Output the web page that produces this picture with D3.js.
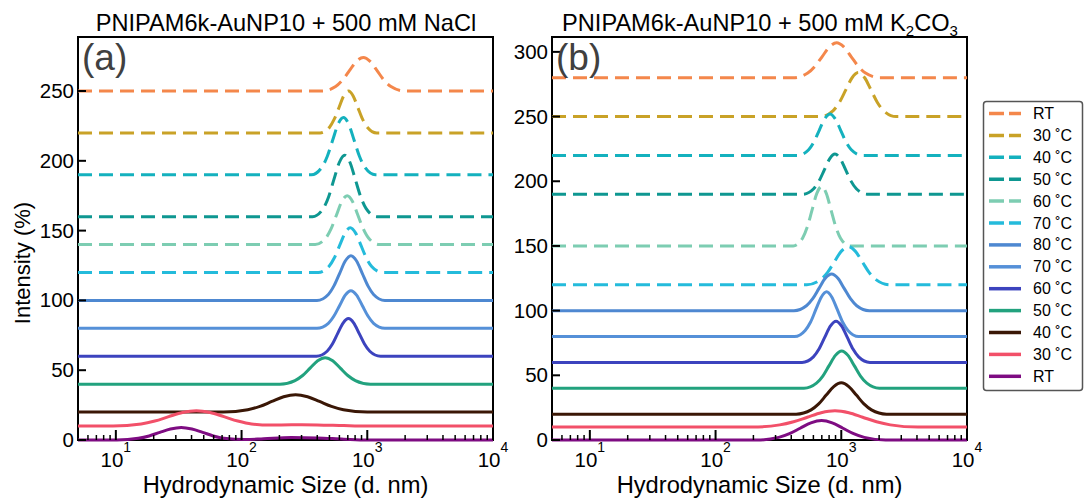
<!DOCTYPE html>
<html>
<head>
<meta charset="utf-8">
<script src="https://cdn.jsdelivr.net/npm/d3@7"></script>
<style>
  body { margin: 0; background: #fff; }
  svg { font-family: "Liberation Sans", Arial, sans-serif; }
</style>
</head>
<body>
<svg id="chart" width="1085" height="498"></svg>
<script>
// --- données ---
const legendLabels = ["RT", "30 ˚C", "40 ˚C", "50 ˚C", "60 ˚C", "70 ˚C",
  "80 ˚C", "70 ˚C", "60 ˚C", "50 ˚C", "40 ˚C", "30 ˚C", "RT"];
const isDashed = [true, true, true, true, true, true, false, false, false, false, false, false, false];
const lineColors = ["#f4874b", "#c9a227", "#14b1be", "#0e9791", "#7dcdb2", "#24bbdb",
  "#4e88d1", "#5590d8", "#3c43be", "#22a27e", "#3a1706", "#f25069", "#7e0c82"];

const titleA = "PNIPAM6k-AuNP10 + 500 mM NaCl";
const sizeRange = [5, 10000];
const xTickValues = [10, 100, 1000, 10000];
const xTickExps = ["1", "2", "3", "4"];
const yTicksA = [0, 50, 100, 150, 200, 250];
const yTicksB = [0, 50, 100, 150, 200, 250, 300];
const yMaxA = 288.7;
const yMaxB = 311.5;

// décalage vertical de chaque courbe (%)
const offsetsA = [250, 220, 190, 160, 140, 120, 100, 80, 60, 40, 20, 10, 0];
const offsetsB = [280, 250, 220, 190, 150, 120, 100, 80, 60, 40, 20, 10, 0];

// [taille (nm), intensité (%)] autour des pics
const peaksA = [
  [[435, 0], [560, 3.2], [635, 7.8], [721, 14.6], [818, 21.2], [929, 24], [1054, 21.2], [1197, 14.6], [1358, 7.8], [1542, 3.2], [1986, 0]],
  [[422, 0], [501, 4.1], [546, 9.8], [596, 18.2], [649, 26.5], [708, 30], [772, 26.5], [841, 18.2], [917, 9.8], [1000, 4.1], [1189, 0]],
  [[359, 0], [436, 5.5], [481, 13.3], [531, 24.9], [585, 36.2], [646, 41], [712, 36.2], [785, 24.9], [866, 13.3], [955, 5.5], [1161, 0]],
  [[367, 0], [447, 5.9], [493, 14.3], [543, 26.7], [599, 38.8], [661, 44], [729, 38.8], [803, 26.7], [886, 14.3], [977, 5.9], [1189, 0]],
  [[385, 0], [468, 4.7], [516, 11.4], [569, 21.2], [627, 30.9], [692, 35], [763, 30.9], [841, 21.2], [928, 11.4], [1023, 4.7], [1245, 0]],
  [[407, 0], [495, 4.3], [546, 10.4], [603, 19.4], [665, 28.2], [733, 32], [808, 28.2], [891, 19.4], [983, 10.4], [1084, 4.3], [1318, 0]],
  [[398, 0], [490, 4.3], [543, 10.4], [603, 19.4], [668, 28.2], [741, 32], [822, 28.2], [912, 19.4], [1012, 10.4], [1122, 4.3], [1380, 0]],
  [[398, 0], [490, 3.6], [543, 8.8], [603, 16.4], [668, 23.8], [741, 27], [822, 23.8], [912, 16.4], [1012, 8.8], [1122, 3.6], [1380, 0]],
  [[394, 0], [479, 3.6], [528, 8.8], [582, 16.4], [642, 23.8], [708, 27], [781, 23.8], [861, 16.4], [950, 8.8], [1047, 3.6], [1274, 0]],
  [[202, 0], [266, 2.6], [306, 6.2], [351, 11.5], [403, 16.8], [462, 19], [531, 16.8], [610, 11.5], [700, 6.2], [804, 2.6], [1059, 0]],
  [[72, 0], [112, 1.7], [140, 4.1], [174, 7.6], [216, 11], [269, 12.5], [335, 11], [417, 7.6], [519, 4.1], [646, 1.7], [1000, 0]],
  [[9.5, 0], [15.9, 1.5], [20.4, 3.6], [26.3, 6.7], [33.9, 9.7], [43.7, 11], [56.2, 9.7], [72.4, 6.7], [93.3, 3.6], [120, 1.5], [170, 0.7], [250, 0.9], [400, 0.8], [650, 0.3], [1000, 0]],
  [[10.2, 0], [15.1, 1.2], [18.4, 2.9], [22.4, 5.5], [27.2, 7.9], [33.1, 9], [40.3, 7.9], [49, 5.5], [59.6, 2.9], [72.4, 1.2], [107, 0.3], [150, 0.9], [250, 1.8], [400, 1.5], [650, 0.6], [1000, 0]]
];

const peaksB = [
  [[415, 0], [541, 3.6], [617, 8.8], [705, 16.4], [805, 23.8], [918, 27], [1048, 23.8], [1197, 16.4], [1366, 8.8], [1560, 3.6], [2032, 0]],
  [[686, 0], [863, 4.6], [968, 11.1], [1086, 20.6], [1219, 30], [1368, 34], [1535, 30], [1722, 20.6], [1932, 11.1], [2168, 4.6], [2729, 0]],
  [[452, 0], [550, 4.3], [606, 10.4], [668, 19.4], [737, 28.2], [813, 32], [896, 28.2], [989, 19.4], [1090, 10.4], [1202, 4.3], [1462, 0]],
  [[496, 0], [603, 4.2], [665, 10.1], [733, 18.8], [808, 27.3], [891, 31], [983, 27.3], [1084, 18.8], [1195, 10.1], [1318, 4.2], [1603, 0]],
  [[415, 0], [493, 6.2], [538, 15], [586, 27.9], [639, 40.6], [697, 46], [760, 40.6], [828, 27.9], [903, 15], [984, 6.2], [1169, 0]],
  [[532, 0], [686, 4], [778, 9.6], [883, 17.9], [1002, 26], [1138, 29.5], [1291, 26], [1466, 17.9], [1663, 9.6], [1888, 4], [2432, 0]],
  [[420, 0], [528, 3.8], [593, 9.2], [665, 17.2], [746, 25], [838, 28.3], [940, 25], [1054, 17.2], [1183, 9.2], [1327, 3.8], [1671, 0]],
  [[425, 0], [516, 4.7], [570, 11.2], [628, 20.9], [693, 30.4], [764, 34.5], [842, 30.4], [929, 20.9], [1024, 11.2], [1130, 4.7], [1374, 0]],
  [[488, 0], [600, 4.3], [665, 10.3], [738, 19.3], [818, 28], [908, 31.8], [1007, 28], [1117, 19.3], [1239, 10.3], [1374, 4.3], [1690, 0]],
  [[505, 0], [635, 3.9], [713, 9.4], [800, 17.5], [898, 25.4], [1007, 28.8], [1130, 25.4], [1268, 17.5], [1422, 9.4], [1596, 3.9], [2009, 0]],
  [[437, 0], [575, 3.3], [661, 7.9], [759, 14.7], [871, 21.3], [1000, 24.2], [1148, 21.3], [1318, 14.7], [1514, 7.9], [1738, 3.3], [2291, 0]],
  [[195, 0], [324, 1.7], [417, 4.1], [537, 7.6], [692, 11.1], [891, 12.6], [1148, 11.1], [1479, 7.6], [1905, 4.1], [2455, 1.7], [4074, 0]],
  [[215, 0], [318, 2], [387, 4.9], [471, 9.1], [573, 13.2], [697, 15], [847, 13.2], [1030, 9.1], [1253, 4.9], [1524, 2], [2254, 0]]
];

const svg = d3.select("#chart");

const drawPanel = (cfg) => {
  const { left, right, top, bottom, yMax, yTicks, offsets, peaks, letter, id } = cfg;
  const x = d3.scaleLog().domain(sizeRange).range([left, right]);
  const y = d3.scaleLinear().domain([0, yMax]).range([bottom, top]);
  const g = svg.append("g");

  g.append("clipPath").attr("id", "clip" + id)
    .append("rect")
    .attr("x", left).attr("y", top)
    .attr("width", right - left + 1).attr("height", bottom - top + 2);

  // cadre
  g.append("rect")
    .attr("x", left).attr("y", top)
    .attr("width", right - left).attr("height", bottom - top)
    .attr("fill", "none").attr("stroke", "#000").attr("stroke-width", 2);

  // courbes
  const line = d3.line().curve(d3.curveMonotoneX);
  const curves = g.append("g").attr("clip-path", `url(#clip${id})`);
  peaks.forEach((pts, i) => {
    const all = [[sizeRange[0], 0], ...pts, [sizeRange[1], 0]];
    curves.append("path")
      .attr("d", line(all.map((d) => [x(d[0]), y(offsets[i] + d[1])])))
      .attr("fill", "none")
      .attr("stroke", lineColors[i])
      .attr("stroke-width", 3)
      .attr("stroke-dasharray", isDashed[i] ? "14,7" : null);
  });

  // graduations y (vers l'intérieur)
  yTicks.forEach((t) => {
    g.append("line")
      .attr("x1", left).attr("x2", left + 8)
      .attr("y1", y(t)).attr("y2", y(t))
      .attr("stroke", "#000").attr("stroke-width", 2);
    g.append("text")
      .attr("x", left - 4).attr("y", y(t) + 7)
      .attr("text-anchor", "end")
      .attr("font-size", 20.5)
      .text(t);
  });

  // graduations x (log, majeures + mineures)
  const minor = [];
  for (let dec = 1; dec <= 1000; dec *= 10) {
    for (let m = 2; m <= 9; m++) {
      const v = m * dec;
      if (v > sizeRange[0] && v < sizeRange[1]) minor.push(v);
    }
  }
  minor.forEach((v) => {
    g.append("line")
      .attr("x1", x(v)).attr("x2", x(v))
      .attr("y1", bottom).attr("y2", bottom - 5)
      .attr("stroke", "#000").attr("stroke-width", 1.5);
  });
  xTickValues.forEach((v, i) => {
    g.append("line")
      .attr("x1", x(v)).attr("x2", x(v))
      .attr("y1", bottom).attr("y2", bottom - 10)
      .attr("stroke", "#000").attr("stroke-width", 2);
    const t = g.append("text")
      .attr("x", x(v)).attr("y", 467)
      .attr("text-anchor", "middle")
      .attr("font-size", 20.5);
    t.append("tspan").text("10");
    t.append("tspan").attr("dy", -15).attr("font-size", 14).text(xTickExps[i]);
  });

  // lettre du panneau
  g.append("text")
    .attr("x", left + 4).attr("y", top + 33)
    .attr("font-size", 37)
    .attr("fill", "#404040")
    .text(letter);

  // titre de l'axe x
  g.append("text")
    .attr("x", (left + right) / 2).attr("y", 493)
    .attr("text-anchor", "middle")
    .attr("font-size", 23.7)
    .text("Hydrodynamic Size (d. nm)");

  return g;
};

const gA = drawPanel({
  id: "A", left: 78, right: 493, top: 37, bottom: 440,
  yMax: yMaxA, yTicks: yTicksA, offsets: offsetsA, peaks: peaksA, letter: "(a)"
});
const gB = drawPanel({
  id: "B", left: 552, right: 967, top: 37, bottom: 440,
  yMax: yMaxB, yTicks: yTicksB, offsets: offsetsB, peaks: peaksB, letter: "(b)"
});

// titres
gA.append("text")
  .attr("x", 286).attr("y", 31)
  .attr("text-anchor", "middle")
  .attr("font-size", 23.6)
  .text(titleA);

const tB = gB.append("text")
  .attr("x", 760).attr("y", 31)
  .attr("text-anchor", "middle")
  .attr("font-size", 23.6);
tB.append("tspan").text("PNIPAM6k-AuNP10 + 500 mM K");
tB.append("tspan").attr("font-size", 15).attr("dy", 5).text("2");
tB.append("tspan").attr("dy", -5).text("CO");
tB.append("tspan").attr("font-size", 15).attr("dy", 5).text("3");

// titre de l'axe y
svg.append("text")
  .attr("transform", "translate(30,263) rotate(-90)")
  .attr("text-anchor", "middle")
  .attr("font-size", 22)
  .text("Intensity (%)");

// légende
const legend = svg.append("g");
legend.append("rect")
  .attr("x", 983.5).attr("y", 101.5)
  .attr("width", 99).attr("height", 289)
  .attr("rx", 3)
  .attr("fill", "#fff").attr("stroke", "#555").attr("stroke-width", 1.5);
legendLabels.forEach((lab, i) => {
  const yy = 113.5 + i * 21.9;
  legend.append("line")
    .attr("x1", 989).attr("x2", 1021)
    .attr("y1", yy).attr("y2", yy)
    .attr("stroke", lineColors[i])
    .attr("stroke-width", 3.5)
    .attr("stroke-dasharray", isDashed[i] ? "15,5" : null);
  legend.append("text")
    .attr("x", 1033).attr("y", yy + 5.5)
    .attr("font-size", 16)
    .text(lab);
});
</script>
</body>
</html>
